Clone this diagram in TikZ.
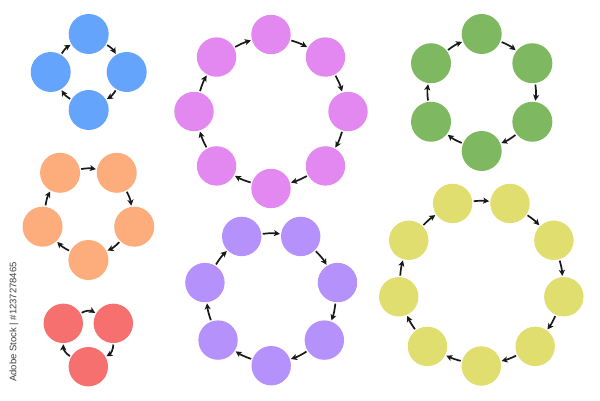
\documentclass[tikz,border=0pt]{standalone}
\usepackage{fontspec}
\setsansfont{Liberation Sans}
\usetikzlibrary{arrows.meta}
\definecolor{cblue}{RGB}{100,164,253}
\definecolor{cpink}{RGB}{226,136,240}
\definecolor{cgreen}{RGB}{126,185,98}
\definecolor{corange}{RGB}{252,173,123}
\definecolor{cred}{RGB}{246,112,112}
\definecolor{cpurple}{RGB}{181,145,252}
\definecolor{cyellow}{RGB}{224,222,110}
\definecolor{carrow}{RGB}{25,25,25}
\tikzset{
  dot/.style={circle, fill=#1, draw=none, inner sep=0pt, outer sep=0pt},
  arr/.style={draw=carrow, line width=1.7pt, -{Stealth[length=6pt,width=6pt,inset=1.5pt]},
              shorten <=1.5pt, shorten >=1.2pt},
  wmark/.style={rotate=90, font=\sffamily\fontsize{9.5}{10}\selectfont, text=black!75}
}
% #1 cx, #2 cy (image px, from top), #3 ring radius, #4 count, #5 start angle,
% #6 colour, #7 name prefix, #8 bend, #9 dot diameter
\newcommand\drawring[9]{%
  \foreach \i in {1,...,#4}{%
    \node[dot=#6, minimum size=#9] (#7\i)
      at ([shift={({#5-(\i-1)*360/#4}:#3)}] #1,{401-#2}) {};
  }
  \foreach \i [evaluate=\i as \j using {int(mod(\i,#4)+1)}] in {1,...,#4}{%
    \draw[arr] (#7\i) to[bend left=#8] (#7\j);
  }
}
\begin{document}
\begin{tikzpicture}[x=1pt,y=1pt]
\useasboundingbox (0,0) rectangle (600,401);
\fill[white] (0,0) rectangle (600,401);
\drawring{88.7}{72}{38}{4}{90}{cblue}{b}{14}{40pt}
\drawring{271}{111.5}{77}{8}{90}{cpink}{p}{6}{39.4pt}
\drawring{481.7}{92.5}{58.5}{6}{90}{cgreen}{g}{8}{40pt}
\drawring{88.4}{211.8}{48.2}{5}{126}{corange}{o}{10}{40pt}
\drawring{88.3}{337.8}{28.9}{3}{150}{cred}{r}{30}{39.4pt}
\drawring{271.2}{297.7}{68}{7}{115.714}{cpurple}{u}{7}{39.4pt}
\drawring{481.3}{282.2}{83.8}{9}{110}{cyellow}{y}{6}{39.4pt}
\node[wmark] (wm) at (14,{401-322}) {Adobe Stock | \#1237278465};
\end{tikzpicture}
\end{document}
